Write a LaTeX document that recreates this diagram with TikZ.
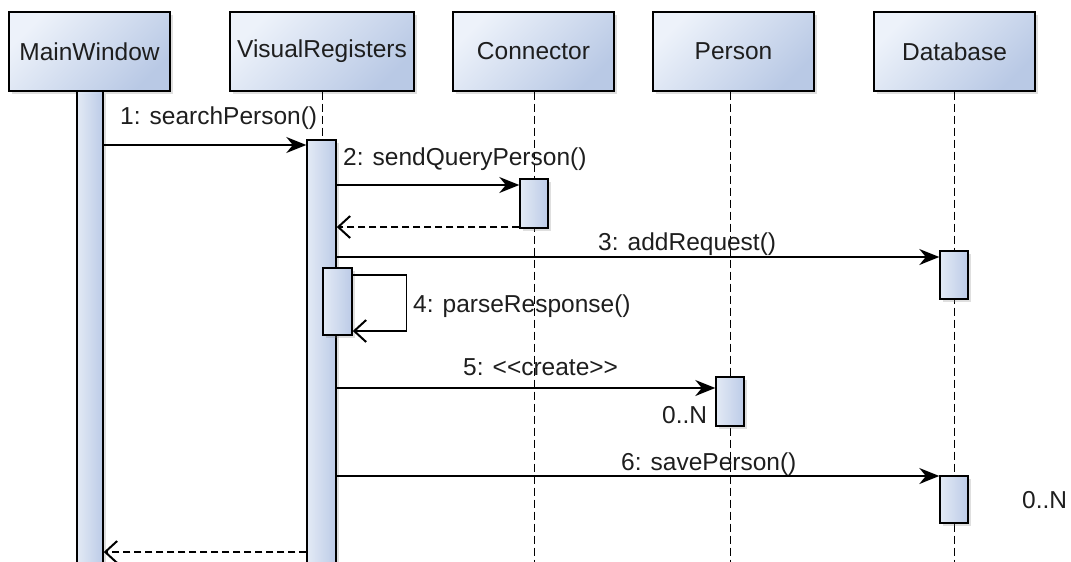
\documentclass[tikz,border=0pt]{standalone}
\usepackage{fontspec}
\setmainfont{Liberation Sans}
\usetikzlibrary{arrows.meta,shadows}
\definecolor{boxl}{HTML}{EDF2FA}
\definecolor{boxr}{HTML}{B9C9E5}
\definecolor{actl}{HTML}{E3EAF5}
\definecolor{actr}{HTML}{BCCBE7}
\definecolor{txt}{HTML}{1E1E1E}
\begin{document}
\begin{tikzpicture}[x=1pt,y=-1pt,
  font=\fontsize{24.5}{28}\selectfont, text=txt,
  head/.style={draw=black, line width=1.4pt, top color=boxl, bottom color=boxr, shading angle=45,
    drop shadow={opacity=0.25, shadow xshift=3pt, shadow yshift=-3pt},
    minimum width=161pt, minimum height=79pt, inner sep=0pt},
  act/.style={draw=black, line width=1.4pt, left color=actl, right color=actr,
    drop shadow={opacity=0.25, shadow xshift=3pt, shadow yshift=-3pt},
    minimum width=28pt, inner sep=0pt},
  life/.style={draw=black, line width=1pt, dash pattern=on 8pt off 4pt},
  msg/.style={draw=black, line width=1.4pt, -{Stealth[length=20pt,width=16pt]}},
  ret/.style={draw=black, line width=1.4pt, dash pattern=on 7pt off 4pt,
    -{Straight Barb[length=12pt,width=22pt,line width=2pt]}},
  selfmsg/.style={draw=black, line width=1.4pt,
    -{Straight Barb[length=12pt,width=22pt,line width=2pt]}},
  lbl/.style={inner sep=0pt, anchor=base west}]
\useasboundingbox (0,0) rectangle (1071,562);

% headers
\node[head] (mw) at (89.5,51.5) {MainWindow};
\node[head, minimum width=184pt] (vr) at (322,51.5) {VisualRegisters};
\node[head] (con) at (533.5,51.5) {Connector};
\node[head] (per) at (733.5,51.5) {Person};
\node[head] (db) at (954.5,51.5) {Database};

% lifeline ends
\coordinate (conend) at (534,570);
\coordinate (perend) at (730,570);
\coordinate (dbend) at (954,570);

% lifelines (drawn before activation bars)
\path (730,377) coordinate (pertop);
\draw[life] (vr.south) -- (322,140);
\draw[life] (con.south -| conend) -- (conend);
\draw[life] (pertop |- per.south) -- (perend);
\draw[life] (db.south -| dbend) -- (dbend);

% activation bars
\node[act, minimum width=26pt, minimum height=509pt] (mwact) at (90,345.5) {};
\node[act, minimum width=29pt, minimum height=460pt] (vract) at (321.5,370) {};
\node[act, minimum width=29pt, minimum height=67pt] (vrself) at (337.5,301.5) {};
\node[act, minimum height=49pt] (conact) at (534,203.5) {};
\node[act, minimum height=48pt] (dbacta) at (954,275) {};
\node[act, minimum height=49pt] (peract) at (730,401.5) {};
\node[act, minimum height=47pt] (dbactb) at (954,499.5) {};

% message heights
\coordinate (y1) at (0,145);
\coordinate (y2) at (0,185);
\coordinate (yr1) at (0,227);
\coordinate (y3) at (0,257);
\coordinate (y4a) at (0,275);
\coordinate (y4b) at (0,331);
\coordinate (y5) at (0,388);
\coordinate (y6) at (0,476);
\coordinate (yr2) at (0,552);

% messages
\draw[msg] (mwact.east |- y1) -- (vract.west |- y1);
\draw[msg] (vract.east |- y2) -- (conact.west |- y2);
\draw[ret] (conact.west |- yr1) -- (vract.east |- yr1);
\draw[msg] (vract.east |- y3) -- (dbacta.west |- y3);
\draw[selfmsg] (vrself.east |- y4a) -- ++(54,0) -- ++(0,56) -- (vrself.east |- y4b);
\draw[msg] (vract.east |- y5) -- (peract.west |- y5);
\draw[msg] (vract.east |- y6) -- (dbactb.west |- y6);
\draw[ret] (vract.west |- yr2) -- (mwact.east |- yr2);

% labels
\node[lbl] (l1) at (120,124) {1: searchPerson()};
\node[lbl] (l2) at (343,165) {2: sendQueryPerson()};
\node[lbl] (l3) at (598,250) {3: addRequest()};
\node[lbl] (l4) at (413,312) {4: parseResponse()};
\node[lbl] (l5) at (463,375) {5: <{}<create>{}>};
\node[lbl] (n1) at (662,423) {0..N};
\node[lbl] (l6) at (621,470) {6: savePerson()};
\node[lbl] (n2) at (1022,508) {0..N};
\end{tikzpicture}
\end{document}
